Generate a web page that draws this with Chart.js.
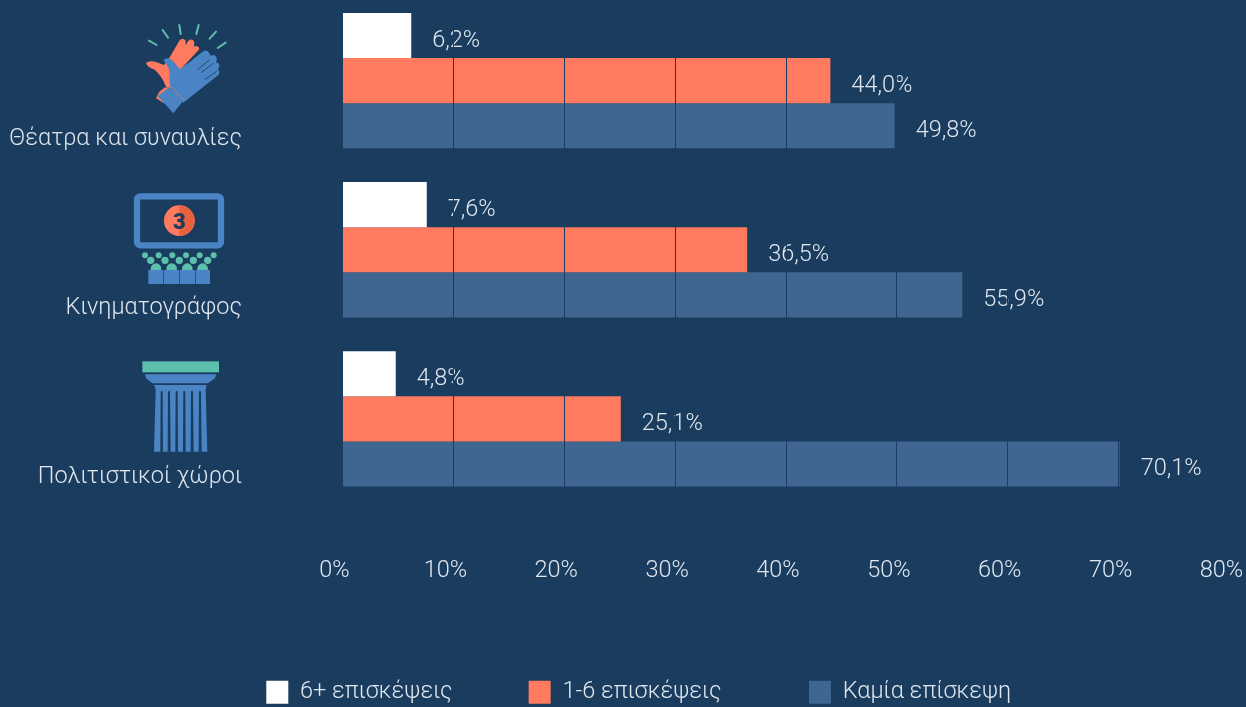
<!DOCTYPE html>
<html lang="el">
<head>
<meta charset="utf-8">
<style>
html,body{margin:0;padding:0;background:#1a3c5e;overflow:hidden;width:1246px;height:707px}
#wrap{position:absolute;left:0;top:-20px;width:1246px;height:734px}
#icons{position:absolute;left:0;top:0;width:1246px;height:707px;pointer-events:none}
</style>
<script src="https://cdn.jsdelivr.net/npm/chart.js@4/dist/chart.umd.min.js"></script>
</head>
<body>
<div id="wrap"><canvas id="c" width="1246" height="734"></canvas></div>
<svg id="icons" viewBox="0 0 1246 707">
 <g transform="translate(120 10) scale(.3333)">
  <g stroke="#5cc0ad" stroke-width="6" stroke-linecap="round">
   <path d="M87 92L110 105M128 60L144 83M178 45L182 72M236 45L229 72M288 65L269 86M317 98L293 114"/>
  </g>
  <path fill="#ff7a5e" d="M78 158Q90 150 108 156L132 165L150 140L178 92Q188 80 197 92L197 106L205 92Q216 84 223 96L222 110Q235 104 238 118L180 180L155 235L135 232L118 245L108 265L132 280L150 240L137 228Q124 195 102 178Q82 172 78 158Z"/>
  <path fill="#4a84c4" d="M130 150Q140 140 156 150L180 178L248 125Q262 116 268 130Q272 134 272 138Q286 130 291 146L288 158Q298 156 298 170Q296 176 292 178Q302 184 296 194L190 278L150 228L148 180Q140 160 130 150Z"/>
  <path fill="#4a84c4" d="M113 258L150 230L190 272L160 310Z"/>
  <path stroke="#ff7a5e" stroke-width="2" fill="none" d="M152 230L191 270"/>
  <path stroke="#1a3c5e" stroke-width="2.5" stroke-linecap="round" fill="none" d="M232 135L203 160M268 150L234 178M280 160L246 186M290 184L256 208"/>
 </g>
 <g transform="translate(120 180) scale(.3333)">
  <rect x="51" y="49" width="252" height="147" rx="10" fill="none" stroke="#4a84c4" stroke-width="19"/>
  <circle cx="178" cy="122" r="46" fill="#ff7a5e"/>
  <path d="M178 76A46 46 0 0 1 178 168Z" fill="#e8623f"/>
  <text x="178" y="146" text-anchor="middle" font-family="Roboto" font-weight="900" font-size="66" fill="#1a3c5e">3</text>
  <g fill="#5cc0ad">
   <circle cx="75" cy="226" r="9"/><circle cx="116" cy="226" r="9"/><circle cx="157" cy="226" r="9"/><circle cx="198" cy="226" r="9"/><circle cx="239" cy="226" r="9"/><circle cx="281" cy="226" r="9"/>
   <circle cx="92" cy="241" r="11"/><circle cx="135" cy="241" r="11"/><circle cx="178" cy="241" r="11"/><circle cx="220" cy="241" r="11"/><circle cx="263" cy="241" r="11"/>
   <circle cx="108" cy="266" r="16"/><circle cx="155" cy="266" r="16"/><circle cx="202" cy="266" r="16"/><circle cx="248" cy="266" r="16"/>
  </g>
  <g fill="#4a84c4">
   <rect x="85" y="270" width="45" height="42"/><rect x="132" y="270" width="46" height="42"/><rect x="180" y="270" width="45" height="42"/><rect x="227" y="270" width="43" height="42"/>
  </g>
 </g>
 <g transform="translate(120 350) scale(.3333)">
  <rect x="67" y="34" width="230" height="33" fill="#5cc0ad"/>
  <path fill="#4a84c4" d="M75 73H288L285 85L264 100H97L78 85Z"/>
  <path fill="#4a84c4" d="M102 105H260L257 120L262 305H102L107 120Z"/>
  <path fill="#1a3c5e" d="M122 126Q125 118 128 126L129 305H121ZM144 126Q147 118 150 126L152 305H143ZM167 126Q170 118 173 126L174 305H166ZM190 126Q193 118 196 126L197 305H189ZM213 126Q216 118 219 126L221 305H212ZM237 126Q240 118 243 126L245 305H236Z"/>
 </g>
</svg>
<script>
const categories = ['Θέατρα και συναυλίες', 'Κινηματογράφος', 'Πολιτιστικοί χώροι'];
const seriesNames = ['6+ επισκέψεις', '1-6 επισκέψεις', 'Καμία επίσκεψη'];
const visits6plus = [6.2, 7.6, 4.8];
const visits1to6 = [44.0, 36.5, 25.1];
const visitsNone = [49.8, 55.9, 70.1];
const seriesColors = ['#ffffff', '#ff7a5e', '#3e6691'];
const textColor = '#dfe6ee';
const bgColor = '#1a3c5e';
const fontFamily = 'Roboto';
const fontSize = 23.5;

const barLabels = {
  id: 'barLabels',
  afterLayout(chart) {
    const dx = 24;
    chart.legend.left += dx;
    chart.legend.right += dx;
  },
  afterDatasetsDraw(chart) {
    const ctx = chart.ctx;
    ctx.save();
    ctx.font = '300 ' + fontSize + 'px ' + fontFamily;
    ctx.fillStyle = textColor;
    ctx.textAlign = 'left';
    ctx.textBaseline = 'middle';
    chart.data.datasets.forEach((ds, i) => {
      chart.getDatasetMeta(i).data.forEach((bar, j) => {
        ctx.fillText(ds.data[j].toFixed(1).replace('.', ',') + '%', bar.x + 21, bar.y + 5.5);
      });
    });
    ctx.restore();
  }
};

new Chart(document.getElementById('c'), {
  type: 'bar',
  plugins: [barLabels],
  data: {
    labels: categories,
    datasets: [
      { label: seriesNames[0], data: visits6plus, backgroundColor: seriesColors[0] },
      { label: seriesNames[1], data: visits1to6, backgroundColor: seriesColors[1] },
      { label: seriesNames[2], data: visitsNone, backgroundColor: seriesColors[2] }
    ]
  },
  options: {
    indexAxis: 'y',
    responsive: false,
    animation: false,
    events: [],
    layout: { padding: { left: 0, right: 16.5, top: 16, bottom: 0 } },
    datasets: { bar: { categoryPercentage: 0.8, barPercentage: 1 } },
    scales: {
      x: {
        min: 0, max: 80,
        grid: { color: bgColor, lineWidth: 1, z: 1, drawTicks: false },
        border: { display: false },
        ticks: {
          stepSize: 10,
          callback: v => v + '%',
          color: textColor,
          padding: 54,
          labelOffset: -8,
          maxRotation: 0,
          font: { family: fontFamily, size: fontSize, weight: '300' }
        },
        afterFit(s) { s.height = 101; s.paddingLeft = 0; s.paddingRight = 0; }
      },
      y: {
        grid: { display: false, drawTicks: false },
        border: { display: false },
        ticks: {
          color: textColor,
          padding: 100.5,
          labelOffset: 58.5,
          font: { family: fontFamily, size: fontSize, weight: '300' }
        },
        afterFit(s) { s.width = 342.5; s.paddingTop = 0; s.paddingBottom = 0; }
      }
    },
    plugins: {
      tooltip: { enabled: false },
      legend: {
        position: 'bottom',
        align: 'center',
        labels: {
          boxWidth: 22, boxHeight: 23, padding: 76,
          color: textColor,
          font: { family: fontFamily, size: fontSize, weight: '300' },
          generateLabels(chart) {
            const items = Chart.defaults.plugins.legend.labels.generateLabels(chart);
            items[1].text += '  ';
            return items;
          }
        }
      }
    }
  }
});
</script>
</body>
</html>
